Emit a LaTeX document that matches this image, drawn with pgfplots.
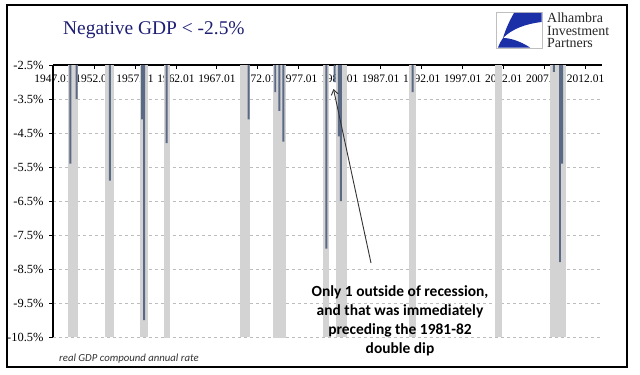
\documentclass[border=0pt]{standalone}
\usepackage{pgfplots}
\pgfplotsset{compat=1.18}
\usetikzlibrary{arrows.meta}
\usepackage{fontspec}
\setmainfont{Liberation Serif}
\newfontfamily\carlito{Carlito}
\definecolor{barcol}{HTML}{5A6984}
\definecolor{reccol}{HTML}{D3D3D3}
\definecolor{titlecol}{HTML}{1F1F75}
\definecolor{logoblue}{HTML}{1B2FA6}
\definecolor{gridcol}{HTML}{BDBDBD}
\begin{document}
\begin{tikzpicture}[x=1bp,y=1bp]
\useasboundingbox (0,0) rectangle (640,374);
\fill[white] (0,0) rectangle (640,374);
\begin{axis}[
  at={(53bp,37bp)}, anchor=south west,
  scale only axis, width=549bp, height=272bp,
  xmin=1947, xmax=2014, ymin=-10.5, ymax=-2.5,
  axis x line*=top, axis y line*=left,
  axis line style={-, black, line width=1.1bp},
  xtick={1947,1952,1957,1962,1967,1972,1977,1982,1987,1992,1997,2002,2007,2012},
  xticklabels={1947.01,1952.01,1957.01,1962.01,1967.01,1972.01,1977.01,1982.01,1987.01,1992.01,1997.01,2002.01,2007.01,2012.01},
  xtick align=inside, ytick align=outside,
  major tick length=4bp,
  tick style={black, line width=0.8bp},
  x tick label style={anchor=north, yshift=-8.5bp, inner sep=1bp, font=\fontsize{11.5}{12}\selectfont},
  ytick={-10.5,-9.5,-8.5,-7.5,-6.5,-5.5,-4.5,-3.5,-2.5},
  yticklabels={-10.5\%,-9.5\%,-8.5\%,-7.5\%,-6.5\%,-5.5\%,-4.5\%,-3.5\%,-2.5\%},
  y tick label style={font=\fontsize{12.5}{13}\selectfont, xshift=-2bp},
  ymajorgrids, grid style={dashed, gridcol, line width=0.6bp},
]
% recession shading
\addplot[fill=reccol, draw=none] coordinates {(1948.8,-10.5) (1948.8,-2.5) (1950.0,-2.5) (1950.0,-10.5)};
\addplot[fill=reccol, draw=none] coordinates {(1953.4,-10.5) (1953.4,-2.5) (1954.5,-2.5) (1954.5,-10.5)};
\addplot[fill=reccol, draw=none] coordinates {(1957.6,-10.5) (1957.6,-2.5) (1958.6,-2.5) (1958.6,-10.5)};
\addplot[fill=reccol, draw=none] coordinates {(1960.5,-10.6) (1960.5,-2.5) (1961.3,-2.5) (1961.3,-10.6)};
\addplot[fill=reccol, draw=none] coordinates {(1969.8,-10.5) (1969.8,-2.5) (1971.0,-2.5) (1971.0,-10.5)};
\addplot[fill=reccol, draw=none] coordinates {(1973.8,-10.6) (1973.8,-2.5) (1975.4,-2.5) (1975.4,-10.6)};
\addplot[fill=reccol, draw=none] coordinates {(1979.95,-10.5) (1979.95,-2.5) (1980.7,-2.5) (1980.7,-10.5)};
\addplot[fill=reccol, draw=none] coordinates {(1981.5,-10.5) (1981.5,-2.5) (1982.9,-2.5) (1982.9,-10.5)};
\addplot[fill=reccol, draw=none] coordinates {(1990.4,-10.5) (1990.4,-2.5) (1991.3,-2.5) (1991.3,-10.5)};
\addplot[fill=reccol, draw=none] coordinates {(2000.9,-10.5) (2000.9,-2.5) (2001.8,-2.5) (2001.8,-10.5)};
\addplot[fill=reccol, draw=none] coordinates {(2007.6,-10.5) (2007.6,-2.5) (2009.6,-2.5) (2009.6,-10.5)};
% quarterly GDP below -2.5%
\addplot[ybar, bar width=0.24, bar shift=0pt, fill=barcol, draw=none] coordinates {
(1949.125,-5.4) (1949.875,-3.5) (1953.95,-5.9) (1957.875,-4.1) (1958.125,-10.0)
(1960.875,-4.8) (1970.875,-4.1) (1974.125,-3.3) (1974.625,-3.85) (1975.125,-4.75)
(1980.375,-7.9) (1981.375,-3.0) (1981.875,-4.6) (1982.125,-6.5) (1990.875,-3.3)
(2008.125,-2.7) (2008.875,-8.3) (2009.125,-5.4)};
\end{axis}
% title
\node[anchor=base west, inner sep=0, font=\fontsize{19.5}{22}\selectfont, text=titlecol] at (63,340) {Negative GDP < -2.5\%};
% logo
\draw[black!25, line width=0.6bp] (496,326) rectangle (542,362);
\fill[logoblue] (514,361) -- (541.5,361) -- (541.5,352) .. controls (525,350) and (512,345) .. (503,336) .. controls (506,346) and (510,354) .. (514,361) -- cycle;
\fill[logoblue] (498,326.5) -- (530,326.5) .. controls (520,333) and (510,336) .. (503,336) .. controls (501,333) and (499,330) .. (498,326.5) -- cycle;
\node[anchor=base west, inner sep=0, font=\fontsize{14}{14}\selectfont, text=black!85] at (547,351.5) {Alhambra};
\node[anchor=base west, inner sep=0, font=\fontsize{14}{14}\selectfont, text=black!85] at (547,339) {Investment};
\node[anchor=base west, inner sep=0, font=\fontsize{14}{14}\selectfont, text=black!85] at (547,326.5) {Partners};
% annotation
\draw[-{Straight Barb[length=5bp,width=7bp]}, black!80, line width=0.9bp] (371,111) -- (333.5,285);
\node[align=center, inner sep=0, font=\carlito\bfseries\fontsize{15.5}{19}\selectfont] at (400,53) {Only 1 outside of recession,\\and that was immediately\\preceding the 1981-82\\double dip};
% footnote
\node[anchor=base west, inner sep=0, font=\carlito\itshape\fontsize{10.8}{12}\selectfont, text=black!80] at (59,13) {real GDP compound annual rate};
% frame
\draw[black, line width=1.2bp] (7,7) rectangle (627,369);
\end{tikzpicture}
\end{document}
